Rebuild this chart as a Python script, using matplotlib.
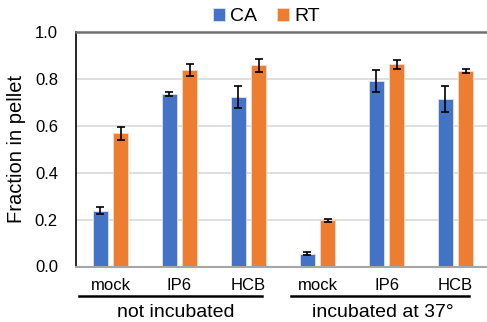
import matplotlib.pyplot as plt
import numpy as np

plt.rcParams['font.family'] = ['Liberation Sans', 'DejaVu Sans']

conditions = ['mock', 'IP6', 'HCB', 'mock', 'IP6', 'HCB']
groups = ['not incubated', 'incubated at 37°']

ca_mean = [0.238, 0.736, 0.724, 0.055, 0.791, 0.713]
ca_err = [0.015, 0.010, 0.046, 0.008, 0.047, 0.055]
rt_mean = [0.568, 0.839, 0.858, 0.197, 0.863, 0.834]
rt_err = [0.028, 0.025, 0.028, 0.006, 0.019, 0.010]

blue = '#4472C4'
orange = '#ED7D31'

fig = plt.figure(figsize=(4.87, 3.22), dpi=100)
ax = fig.add_axes([76 / 487, 1 - 266.5 / 322, 414 / 487, 234.5 / 322])

x = np.arange(len(conditions))
w = 0.225
off = 0.145
err_kw = dict(ecolor='black', elinewidth=1.2, capsize=3, capthick=1.2)
ax.bar(x - off, ca_mean, w, yerr=ca_err, color=blue, edgecolor='#dbe3f3',
       linewidth=0.6, label='CA', error_kw=err_kw, zorder=2)
ax.bar(x + off, rt_mean, w, yerr=rt_err, color=orange, edgecolor='#fbd9c4',
       linewidth=0.6, label='RT', error_kw=err_kw, zorder=2)

ax.set_xlim(-0.5, 5.5)
ax.set_ylim(0, 1.0)
ticks = np.arange(0, 1.01, 0.2)
ax.set_yticks(ticks)
ax.set_yticklabels([f'{v:.1f}' for v in ticks], fontsize=12)
ax.set_xticks(x)
ax.set_xticklabels(conditions, fontsize=12)
ax.tick_params(axis='x', length=0, pad=8)
ax.tick_params(axis='y', length=0, pad=13)
ax.yaxis.grid(True, color='#d9d9d9', linewidth=1.2, zorder=0)
ax.set_axisbelow(True)

ax.spines['right'].set_visible(False)
ax.spines['top'].set_color('#707070')
ax.spines['top'].set_linewidth(1.8)
ax.spines['left'].set_color('black')
ax.spines['left'].set_linewidth(1.2)
ax.spines['bottom'].set_color('#a6a6a6')
ax.spines['bottom'].set_linewidth(1.5)

ax.set_ylabel('Fraction in pellet', fontsize=14.5, labelpad=6)

# group brackets below the category labels
xt = ax.get_xaxis_transform()
for i, name in enumerate(groups):
    left = -0.45 if i == 0 else 3 * i - 0.38
    right = 3 * i + 2.2
    ax.plot([left, right], [-0.127, -0.127], color='black', linewidth=1.8,
            clip_on=False, transform=xt)
    ax.text(3 * i + 0.95, -0.215, name, ha='center', va='baseline', fontsize=14,
            transform=xt)

ax.legend(loc='lower center', bbox_to_anchor=(0.46, 0.995), ncol=2, frameon=False,
          fontsize=14, handlelength=0.6, handleheight=0.6, handletextpad=0.3,
          columnspacing=1.0, borderaxespad=0)

fig.savefig('out.png', dpi=100)
